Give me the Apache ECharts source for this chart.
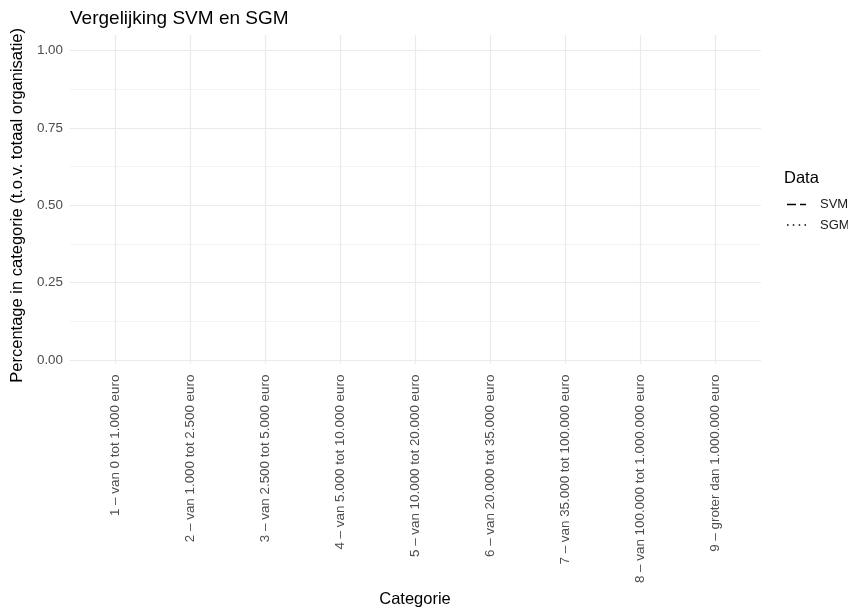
<!DOCTYPE html>
<html><head><meta charset="utf-8">
<script src="https://cdn.jsdelivr.net/npm/echarts@6/dist/echarts.min.js"></script>
<style>html,body{margin:0;padding:0;background:#fff}#c{width:848px;height:613px}</style>
</head><body><div id="c"></div>
<script>
const categories = [
  "1 – van 0 tot 1.000 euro",
  "2 – van 1.000 tot 2.500 euro",
  "3 – van 2.500 tot 5.000 euro",
  "4 – van 5.000 tot 10.000 euro",
  "5 – van 10.000 tot 20.000 euro",
  "6 – van 20.000 tot 35.000 euro",
  "7 – van 35.000 tot 100.000 euro",
  "8 – van 100.000 tot 1.000.000 euro",
  "9 – groter dan 1.000.000 euro"
];
// No observations are drawn in the reference (all values missing)
const svmValues = [null, null, null, null, null, null, null, null, null];
const sgmValues = [null, null, null, null, null, null, null, null, null];
const yTicks = [0, 0.25, 0.5, 0.75, 1];

const chart = echarts.init(document.getElementById('c'), null, {renderer: 'canvas'});
const font = 'Liberation Sans, Arial, sans-serif';
chart.setOption({
  animation: false,
  textStyle: {fontFamily: font},
  title: [
    {text: 'Vergelijking SVM en SGM', left: 70, top: 9, padding: 0,
     textStyle: {fontSize: 19, fontWeight: 'normal', color: '#000', fontFamily: font}},
    {text: 'Data', left: 784, top: 170, padding: 0,
     textStyle: {fontSize: 16.5, fontWeight: 'normal', color: '#000', fontFamily: font}}
  ],
  legend: {
    orient: 'vertical', left: 787, top: 198, padding: 0,
    itemWidth: 19, itemHeight: 1.5, itemGap: 7.5,
    itemStyle: {color: '#000', borderWidth: 0},
    textStyle: {fontSize: 13, color: '#1a1a1a', fontFamily: font, padding: [0, 0, 0, 9]},
    data: [
      {name: 'SVM', icon: 'path://M0,0H9V1.5H0Z M13,0H19V1.5H13Z'},
      {name: 'SGM', icon: 'path://M0,0H1.5V1.5H0Z M5.8,0H7.3V1.5H5.8Z M11.7,0H13.2V1.5H11.7Z M17.5,0H19V1.5H17.5Z'}
    ]
  },
  grid: [
    {left: 70, right: 87, top: 50.7, bottom: 253, containLabel: false},
    {left: 115, right: 133, top: 35, bottom: 237.5, containLabel: false}
  ],
  xAxis: [
    {gridIndex: 0, type: 'value', show: false, min: 0, max: 1},
    {gridIndex: 1, type: 'category', data: categories, boundaryGap: false,
     axisLine: {show: false}, axisTick: {show: false},
     splitLine: {show: true, lineStyle: {color: '#ebebeb', width: 1.2}},
     axisLabel: {rotate: 90, interval: 0, margin: 11, fontSize: 13.4, color: '#4d4d4d', fontFamily: font},
     name: 'Categorie', nameLocation: 'middle', nameGap: 220,
     nameTextStyle: {fontSize: 16.5, color: '#000', fontFamily: font}}
  ],
  yAxis: [
    {gridIndex: 0, type: 'value', min: yTicks[0], max: yTicks[yTicks.length - 1], interval: 0.25,
     axisLine: {show: false}, axisTick: {show: false},
     axisLabel: {margin: 7, fontSize: 13.4, color: '#4d4d4d', fontFamily: font,
                 formatter: v => v.toFixed(2)},
     splitLine: {show: true, lineStyle: {color: '#ebebeb', width: 1.2}},
     minorTick: {show: false, splitNumber: 2},
     minorSplitLine: {show: true, lineStyle: {color: '#f0f0f0', width: 0.8}},
     name: 'Percentage in categorie (t.o.v. totaal organisatie)', nameLocation: 'middle', nameGap: 36,
     nameTextStyle: {fontSize: 16.5, color: '#000', fontFamily: font}},
    {gridIndex: 1, type: 'value', min: -0.05, max: 1.05, show: false, splitLine: {show: false}}
  ],
  series: [
    {name: 'SVM', type: 'line', xAxisIndex: 1, yAxisIndex: 1, data: svmValues,
     symbol: 'none', itemStyle: {color: '#000'},
     lineStyle: {color: '#000', type: [6, 4], width: 1.2}},
    {name: 'SGM', type: 'line', xAxisIndex: 1, yAxisIndex: 1, data: sgmValues,
     symbol: 'none', itemStyle: {color: '#000'},
     lineStyle: {color: '#000', type: [1.5, 3], width: 1.2}}
  ]
});
</script>
</body></html>
